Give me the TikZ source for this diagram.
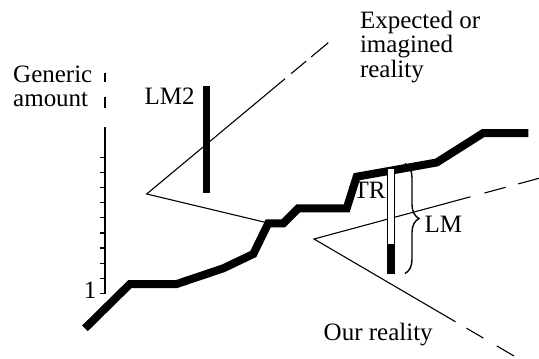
\documentclass[tikz,border=0pt]{standalone}
\usepackage{fontspec}
\setmainfont{Liberation Serif}
\usetikzlibrary{decorations.pathreplacing}
\begin{document}
\begin{tikzpicture}[x=1pt,y=-1pt,
  lbl/.style={inner sep=0pt, font=\fontsize{25}{24.4}\selectfont},
  thinline/.style={line width=1.1pt},
  axisline/.style={line width=1.2pt},
  curveline/.style={line width=8pt, line join=miter, line cap=butt},
  barline/.style={line width=7.3pt, line cap=butt},
  bracestyle/.style={line width=1.4pt, decorate, decoration={brace, amplitude=14pt, aspect=0.5}}]
\useasboundingbox (0,0) rectangle (539,359);

% axis
\coordinate (axb) at (105,293.3);
\coordinate (axt) at (105,127);
\draw[axisline] (axb) -- (axt);
\draw[axisline] (105,73) -- (105,82);
\draw[axisline] (105,97) -- (105,108);
\foreach \k in {0,...,9} {
  \draw[axisline] (99.5,{293.3-15.1*\k}) -- (105.6,{293.3-15.1*\k});
}

% expected wedge
\coordinate (ea) at (146.7,194);
\coordinate (ec) at (266,222.5);
\coordinate (ee) at (328.3,42.7);
\draw[thinline, dash pattern=on 302.8pt off 8pt on 19.4pt off 6.4pt on 30pt off 60pt] (ec) -- (ea) -- (ee);

% our reality wedge
\coordinate (oa) at (314,239);
\coordinate (ou) at (539,178.3);
\coordinate (ol) at (514,356);
\draw[thinline, dash pattern=on 21.5pt off 13pt on 22pt off 14.6pt on 325.9pt off 12.6pt on 19.7pt off 15.5pt on 20pt off 60pt] (ou) -- (oa) -- (ol);

% thick curve
\draw[curveline] (85,328.3) -- (130,284) -- (176.7,284) -- (223.3,268.3) -- (253.3,254) -- (268.3,223.3) -- (283.3,223.3) -- (298.3,208.3) -- (346.7,208.3) -- (356.7,176.7) -- (436.7,162.5) -- (483.3,133) -- (528.3,133);

% LM2 bar
\coordinate (lm2t) at (206.5,85.5);
\coordinate (lm2b) at (206.5,193.3);
\draw[barline] (lm2t) -- (lm2b);

% TR bar
\coordinate (trt) at (387.6,168.8);
\coordinate (trm) at (394.4,244.5);
\coordinate (trb) at (395,273.5);
\draw[line width=1.1pt, fill=white] (trt) rectangle (trm);
\fill (387,244.5) rectangle (trb);

% brace
\coordinate (bt) at (405,163.5);
\coordinate (bb) at (405,273.5);
\draw[bracestyle] (bt) -- (bb);

% labels
\node[lbl, anchor=base west] (gen) at (13,82.5) {\begin{tabular}[t]{@{}l@{}}Generic\\amount\end{tabular}};
\node[lbl, anchor=base west] (exp) at (359.8,28) {\begin{tabular}[t]{@{}l@{}}Expected or\\imagined\\reality\end{tabular}};
\node[lbl, anchor=base west] (lm2) at (144.5,104) {LM2};
\node[lbl, anchor=base west] (tr) at (353.5,198.5) {TR};
\node[lbl, anchor=base west] (lm) at (424.5,232) {LM};
\node[lbl, anchor=base west] (our) at (323.5,340) {Our reality};
\node[lbl, anchor=base east] (one) at (96.5,298.5) {1};
\end{tikzpicture}
\end{document}
